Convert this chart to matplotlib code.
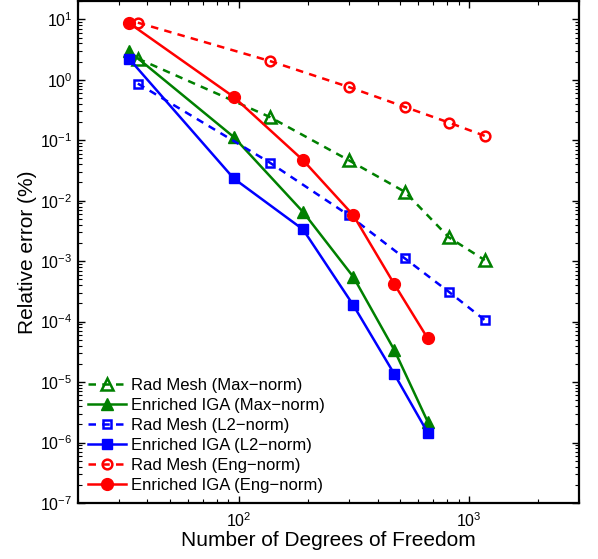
import numpy as np
import matplotlib.pyplot as plt
from matplotlib.ticker import LogLocator, NullFormatter

plt.rcParams['font.family'] = ['Liberation Sans', 'DejaVu Sans']
plt.rcParams['mathtext.fontset'] = 'custom'
plt.rcParams['mathtext.rm'] = 'Liberation Sans'
plt.rcParams['mathtext.it'] = 'Liberation Sans:italic'

# degrees of freedom
dof_rad = [36.4, 136, 300, 526, 817, 1169]
dof_iga = [33.3, 95, 190, 314, 473, 661]

# relative errors (%)
rad_max = [2.24, 0.243, 0.0467, 0.014, 2.47e-3, 1.04e-3]
iga_max = [2.99, 0.113, 6.5e-3, 5.5e-4, 3.4e-5, 2.2e-6]
rad_l2 = [0.865, 0.0428, 5.75e-3, 1.11e-3, 3.1e-4, 1.06e-4]
iga_l2 = [2.24, 0.0233, 3.34e-3, 1.87e-4, 1.36e-5, 1.45e-6]
rad_eng = [8.8, 2.05, 0.76, 0.355, 0.196, 0.118]
iga_eng = [8.7, 0.52, 0.0467, 5.75e-3, 4.17e-4, 5.27e-5]

green = (0, 0.5, 0)
blue = (0, 0, 1)
red = (1, 0, 0)

fig = plt.figure(figsize=(5.98, 5.59), dpi=100)
ax = fig.add_axes([0.1304, 0.1002, 0.8378, 0.8978])

dash = dict(ls='--', dashes=(3, 2.5), lw=1.8, mfc='none', mew=1.8)
solid = dict(ls='-', lw=1.8)

ax.plot(dof_rad, rad_max, color=green, marker='^', ms=8, label='Rad Mesh (Max\u2212norm)', **dash)
ax.plot(dof_iga, iga_max, color=green, marker='^', ms=9, label='Enriched IGA (Max\u2212norm)', **solid)
ax.plot(dof_rad, rad_l2, color=blue, marker='s', ms=6, label='Rad Mesh (L2\u2212norm)', **dash)
ax.plot(dof_iga, iga_l2, color=blue, marker='s', ms=7, label='Enriched IGA (L2\u2212norm)', **solid)
ax.plot(dof_rad, rad_eng, color=red, marker='o', ms=7, label='Rad Mesh (Eng\u2212norm)', **dash)
ax.plot(dof_iga, iga_eng, color=red, marker='o', ms=8.5, label='Enriched IGA (Eng\u2212norm)', **solid)

ax.set_xscale('log')
ax.set_yscale('log')
ax.set_xlim(20, 3000)
ax.set_ylim(1e-7, 20)

ax.set_xticks([1e2, 1e3])
ax.set_yticks([10.0 ** k for k in range(-7, 2)])
ax.yaxis.set_minor_locator(LogLocator(base=10, subs=np.arange(2, 10), numticks=100))
ax.yaxis.set_minor_formatter(NullFormatter())
ax.xaxis.set_minor_locator(LogLocator(base=10, subs=np.arange(2, 10), numticks=100))
ax.xaxis.set_minor_formatter(NullFormatter())

ax.tick_params(which='both', direction='in', top=True, right=True, labelsize=11.5)
ax.tick_params(axis='y', which='major', pad=4)
ax.tick_params(axis='x', which='major', pad=6)
ax.tick_params(which='major', length=5, width=1)
ax.tick_params(which='minor', length=3, width=0.8)
for s in ax.spines.values():
    s.set_linewidth(1.6)

ax.set_xlabel('Number of Degrees of Freedom', fontsize=15, labelpad=1)
ax.set_ylabel('Relative error (%)', fontsize=15, labelpad=2)

ax.legend(loc='lower left', frameon=False, fontsize=12, handlelength=2.3,
          handletextpad=0.3, labelspacing=0.3, borderaxespad=0.2)

fig.savefig('out.png', dpi=100)
